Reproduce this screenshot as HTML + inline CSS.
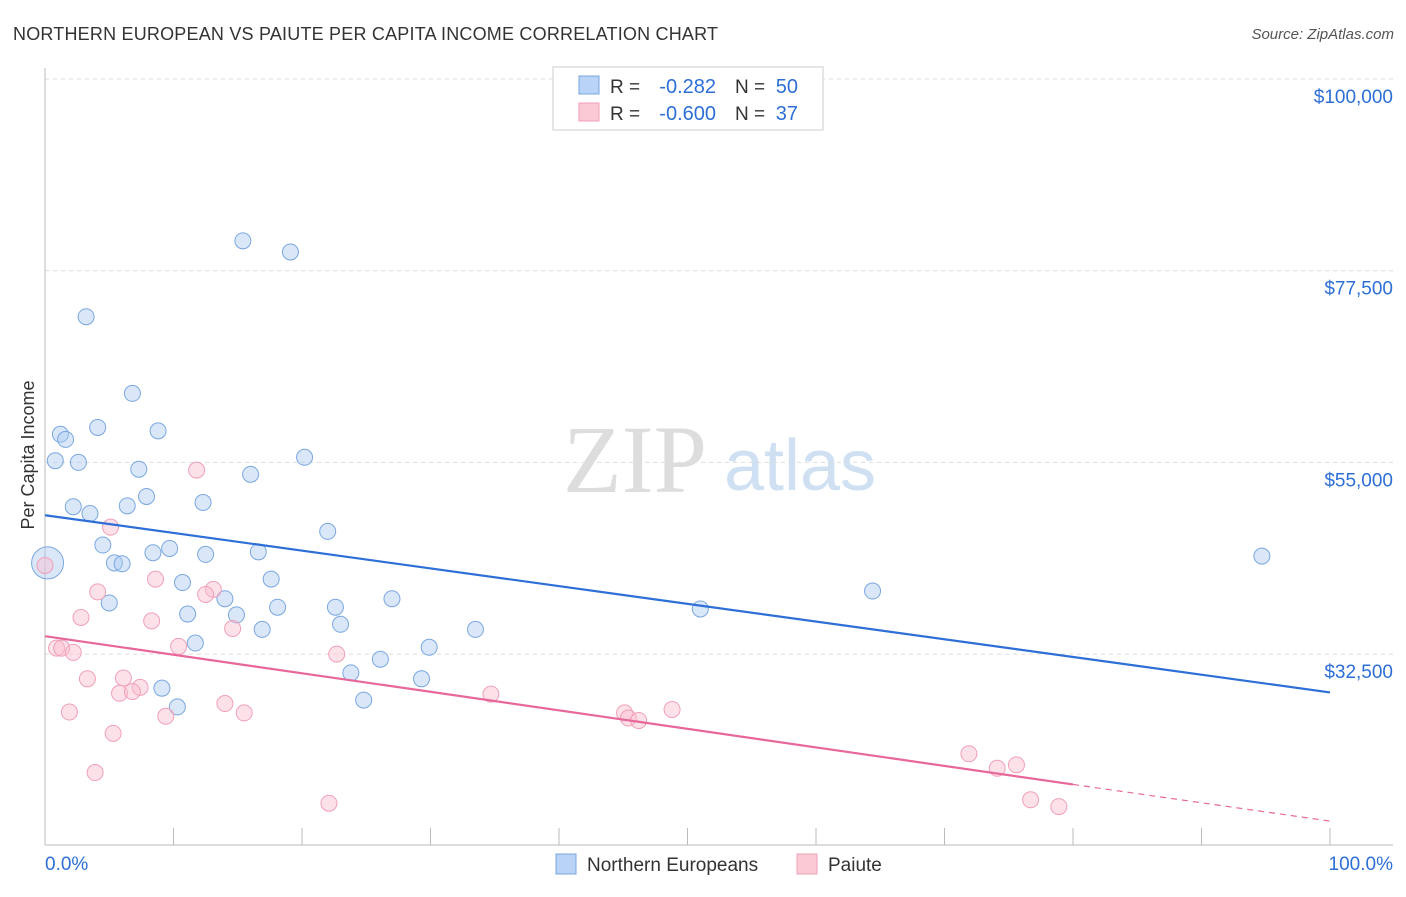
<!DOCTYPE html>
<html><head><meta charset="utf-8"><style>
body{margin:0;background:#fff;font-family:"Liberation Sans",sans-serif;}
</style></head><body>
<svg id="c" width="1406" height="892" xmlns="http://www.w3.org/2000/svg">
<text x="13" y="40" font-size="18" fill="#333" textLength="705">NORTHERN EUROPEAN VS PAIUTE PER CAPITA INCOME CORRELATION CHART</text>
<text x="1394" y="39" font-size="15" fill="#555" font-style="italic" text-anchor="end">Source: ZipAtlas.com</text>
<text x="635" y="492" font-size="96" fill="#ddd" font-family="Liberation Serif" text-anchor="middle">ZIP</text>
<text x="800" y="490" font-size="72" fill="#cfe0f3" text-anchor="middle">atlas</text>
<text x="34" y="455" font-size="18" fill="#333" text-anchor="middle" transform="rotate(-90 34 455)">Per Capita Income</text>
<g id="grid"></g><g id="marks"></g>
<g>
<rect x="553" y="67" width="270" height="63" fill="#fff" stroke="#ccc"/>
<rect x="579" y="76" width="20" height="18" fill="#b8d3f5" stroke="#7aa7e0"/>
<rect x="579" y="103" width="20" height="18" fill="#fbc8d6" stroke="#f0a0b8"/>
<text x="610" y="93" font-size="19" fill="#333">R =</text>
<text x="716" y="93" font-size="20" fill="#2d6fd6" text-anchor="end">-0.282</text>
<text x="735" y="93" font-size="19" fill="#333">N =</text>
<text x="798" y="93" font-size="20" fill="#2d6fd6" text-anchor="end">50</text>
<text x="610" y="120" font-size="19" fill="#333">R =</text>
<text x="716" y="120" font-size="20" fill="#2d6fd6" text-anchor="end">-0.600</text>
<text x="735" y="120" font-size="19" fill="#333">N =</text>
<text x="798" y="120" font-size="20" fill="#2d6fd6" text-anchor="end">37</text>
</g>
<g>
<rect x="556" y="854" width="20" height="20" fill="#b8d3f5" stroke="#7aa7e0"/>
<text x="587" y="871" font-size="19" fill="#333">Northern Europeans</text>
<rect x="797" y="854" width="20" height="20" fill="#fbc8d6" stroke="#f0a0b8"/>
<text x="828" y="871" font-size="19" fill="#333">Paiute</text>
</g>
<text x="45" y="870" font-size="19" fill="#2d6fd6">0.0%</text>
<text x="1393" y="870" font-size="19" fill="#2d6fd6" text-anchor="end">100.0%</text>
</svg>
<script>
const yTicks=[100000,77500,55000,32500];
const yTickLabels=["$100,000","$77,500","$55,000","$32,500"];
const xTicks=[0,10,20,30,40,50,60,70,80,90,100];
const blueX=[15.4,19.1,3.2,6.8,4.1,8.8,1.2,1.6,0.8,2.6,20.2,7.3,16.0,7.9,12.3,2.2,3.5,6.4,22.0,4.5,8.4,9.7,12.5,16.6,5.4,6.0,10.7,17.6,64.4,14.0,27.0,5.0,18.1,22.6,51.0,11.1,14.9,23.0,16.9,33.5,11.7,29.9,26.1,23.8,29.3,9.1,10.3,24.8,94.7,0.2];
const blueY=[81000,79700,72100,63100,59100,58700,58300,57700,55200,55000,55600,54200,53600,51000,50300,49800,49000,49900,46900,45300,44400,44900,44200,44500,43200,43100,40900,41300,39900,39000,39000,38500,38000,38000,37800,37200,37100,36000,35400,35400,33800,33300,31900,30300,29600,28500,26300,27100,44000,43200];
const pinkX=[11.8,5.1,8.6,4.1,13.1,12.5,2.8,8.3,14.6,10.4,0.9,1.3,2.2,22.7,3.3,6.1,7.4,5.8,6.8,34.7,14.0,1.9,9.4,15.5,45.1,45.4,46.2,48.8,5.3,3.9,22.1,71.9,74.1,75.6,76.7,78.9,0.0];
const pinkY=[54100,47400,41300,39800,40100,39500,36800,36400,35500,33400,33200,33200,32700,32500,29600,29700,28600,27900,28100,27800,26700,25700,25200,25600,25600,25000,24700,26000,23200,18600,15000,20800,19100,19500,15400,14600,42900];
const blueTrend=[48800,28000];
const pinkTrend=[34600,17200,12900];
const X=v=>45+v*12.85, Y=v=>79+(100000-v)/22500*191.7;
const NS="http://www.w3.org/2000/svg";
function mk(t,a,p){const e=document.createElementNS(NS,t);for(const k in a)e.setAttribute(k,a[k]);p.appendChild(e);return e;}
const g=document.getElementById('grid'),m=document.getElementById('marks');
yTicks.forEach((v,i)=>{
 const l=mk('line',{x1:45,x2:1393,y1:Y(v),y2:Y(v),stroke:'#ddd','stroke-dasharray':'4,4'},g);
 
 
 const t=mk('text',{x:1393,y:Y(v)+24,'font-size':19,fill:'#2d6fd6','text-anchor':'end'},g);t.textContent=yTickLabels[i];
 
 
});
mk('line',{x1:45,x2:45,y1:68,y2:845,stroke:'#bbb'},g);
mk('line',{x1:45,x2:1393,y1:845,y2:845,stroke:'#bbb'},g);
xTicks.forEach(v=>{const l=mk('line',{x1:X(v),x2:X(v),y1:828,y2:845,stroke:'#bbb'},g);
 
 });
function pts(xs,ys,fill,stroke,name){xs.forEach((x,i)=>{const r=(name==='blue-point'&&x<0.5)?16:8;
 const c=mk('circle',{cx:X(x),cy:Y(ys[i]),r:r,fill:fill,stroke:stroke,'stroke-width':1},m);
 
 });}
pts(blueX,blueY,'rgba(170,202,242,0.45)','#7aa7e0','blue-point');
pts(pinkX,pinkY,'rgba(250,188,206,0.45)','#f0a0b8','pink-point');
const bl=mk('line',{x1:X(0),y1:Y(blueTrend[0]),x2:X(100),y2:Y(blueTrend[1]),stroke:'#2d6fd6','stroke-width':2.2},m);


const pl=mk('line',{x1:X(0),y1:Y(pinkTrend[0]),x2:X(80),y2:Y(pinkTrend[1]),stroke:'#e8679a','stroke-width':2.2},m);


const pd=mk('line',{x1:X(80),y1:Y(pinkTrend[1]),x2:X(100),y2:Y(pinkTrend[2]),stroke:'#e8679a','stroke-width':1.2,'stroke-dasharray':'6,5'},m);


</script>
</body></html>
